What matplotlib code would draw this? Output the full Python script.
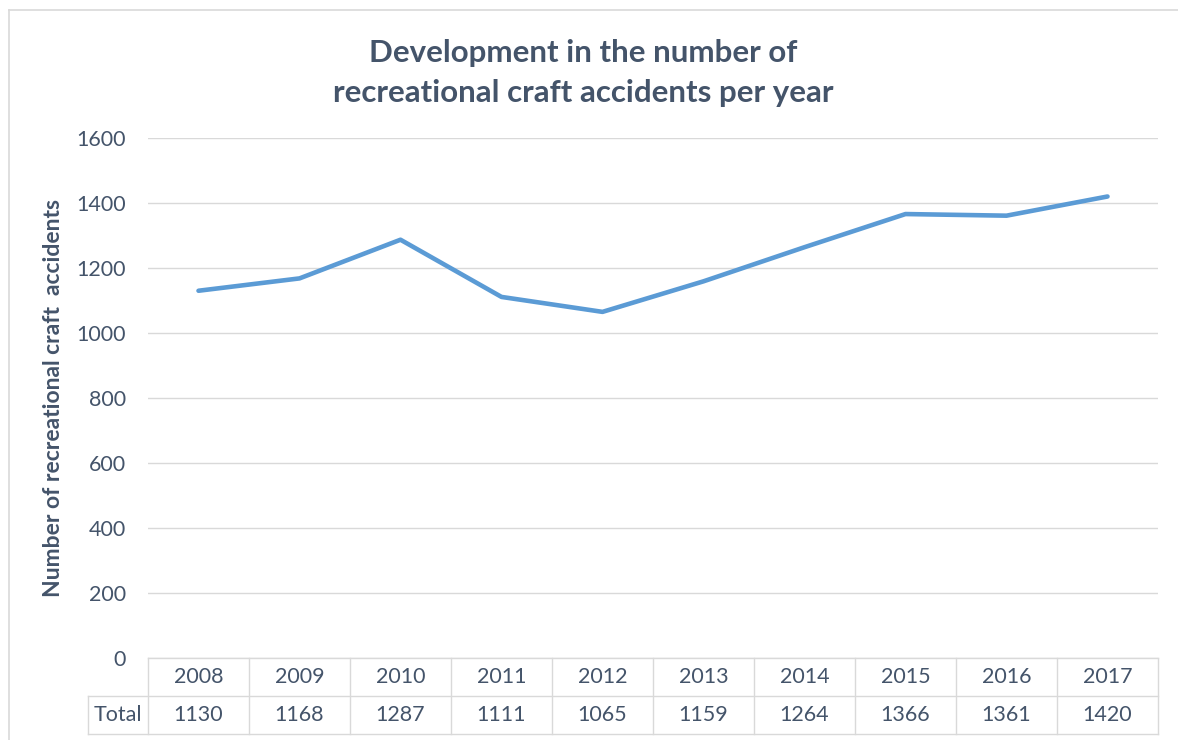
import matplotlib
matplotlib.use("Agg")
import matplotlib.pyplot as plt
from matplotlib.lines import Line2D

years = ["2008", "2009", "2010", "2011", "2012", "2013", "2014", "2015", "2016", "2017"]
totals = [1130, 1168, 1287, 1111, 1065, 1159, 1264, 1366, 1361, 1420]
row_label = "Total"
title = "Development in the number of\nrecreational craft accidents per year"
ylabel = "Number of recreational craft  accidents"
yticks = [0, 200, 400, 600, 800, 1000, 1200, 1400, 1600]

TEXT = "#44546A"
LINE = "#5B9BD5"
GRID = "#D9D9D9"
FONT = "Lato"
FS = 15.5

plt.rcParams['font.family'] = [FONT, 'DejaVu Sans']

W, H = 1178, 740
fig = plt.figure(figsize=(W / 100, H / 100), dpi=100)

# chart border
fig.add_artist(Line2D([9 / W, 1.0], [1 - 10 / H, 1 - 10 / H], transform=fig.transFigure, color="#D9D9D9", lw=1.2))
fig.add_artist(Line2D([9 / W, 9 / W], [0, 1 - 10 / H], transform=fig.transFigure, color="#D9D9D9", lw=1.2))

left, right, top, bottom = 148, 1158, 138, 658
ax = fig.add_axes([left / W, 1 - bottom / H, (right - left) / W, (bottom - top) / H])
x = list(range(len(years)))
ax.plot(x, totals, color=LINE, lw=3.3, solid_capstyle="round", solid_joinstyle="round", zorder=3)
ax.set_xlim(-0.5, len(years) - 0.5)
ax.set_ylim(0, 1600)
ax.set_yticks(yticks)
ax.set_yticklabels([str(t) for t in yticks], color=TEXT, fontsize=FS)
ax.tick_params(axis='y', length=0, pad=16)
ax.set_xticks([])
ax.grid(axis='y', color=GRID, lw=1)
ax.set_axisbelow(True)
for s in ax.spines.values():
    s.set_visible(False)

ax.set_ylabel(ylabel, color=TEXT, fontsize=16.5, fontweight="bold")
ax.yaxis.set_label_coords(-(left - 54) / (right - left), 0.5)
ax.yaxis.label.set_va("center")

# data table
rowh = 38 / (bottom - top)
trans = ax.get_xaxis_transform()
tcol = dict(color=GRID, lw=1, transform=trans, clip_on=False)
n = len(years)
first_left = -0.5 - 60 / ((right - left) / n)
ax.add_line(Line2D([-0.5, n - 0.5], [0, 0], **tcol))
ax.add_line(Line2D([first_left, n - 0.5], [-rowh, -rowh], **tcol))
ax.add_line(Line2D([first_left, n - 0.5], [-2 * rowh, -2 * rowh], **tcol))
for i in range(n + 1):
    ax.add_line(Line2D([i - 0.5, i - 0.5], [0, -2 * rowh], **tcol))
ax.add_line(Line2D([first_left, first_left], [-rowh, -2 * rowh], **tcol))
for i, (yr, v) in enumerate(zip(years, totals)):
    ax.text(i, -0.5 * rowh, yr, transform=trans, ha="center", va="center", color=TEXT, fontsize=FS)
    ax.text(i, -1.5 * rowh, str(v), transform=trans, ha="center", va="center", color=TEXT, fontsize=FS)
ax.text((first_left - 0.5) / 2, -1.5 * rowh, row_label, transform=trans, ha="center", va="center", color=TEXT, fontsize=FS)

fig.text(583 / W, 1 - 73 / H, title, ha="center", va="center", color=TEXT, fontsize=22.5,
         fontweight="bold", linespacing=1.5)

fig.savefig("out.png", dpi=100, facecolor="white")
